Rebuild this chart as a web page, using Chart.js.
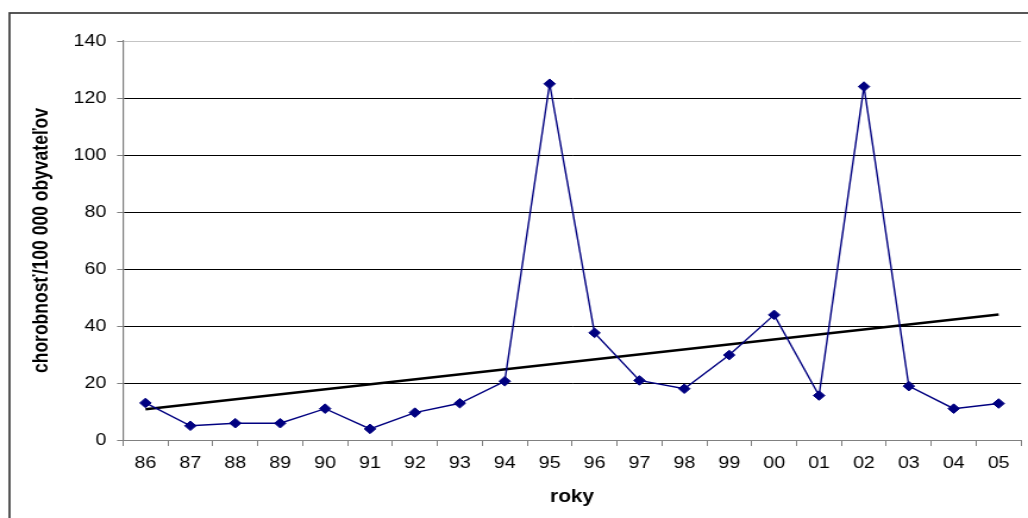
<!DOCTYPE html>
<html>
<head>
<meta charset="utf-8">
<script src="https://cdn.jsdelivr.net/npm/chart.js@4"></script>
<style>
  html, body { margin: 0; padding: 0; background: #fff; overflow: hidden; }
  #chorobnost { display: block; }
</style>
</head>
<body>
<!-- drawn on a narrower canvas and widened by css, the way the old office chart was stretched -->
<canvas id="chorobnost" width="864" height="518" style="width:1028px;height:518px"></canvas>
<script>
const years = ["86", "87", "88", "89", "90", "91", "92", "93", "94", "95",
               "96", "97", "98", "99", "00", "01", "02", "03", "04", "05"];
const cases = [13, 5, 5.9, 5.9, 11, 3.9, 9.6, 12.9, 20.6, 125,
               37.6, 20.9, 18, 29.8, 43.9, 15.6, 124, 18.9, 11, 12.8];
// linear trend, start and end value
const trendStart = 10.8;
const trendEnd = 44;
const yTicks = { min: 0, max: 140, step: 20 };

const stretch = 1028 / 864;
const font = "'Liberation Sans', Arial, sans-serif";

// frame around the whole chart (left and top edges are visible)
const framePlugin = {
  id: "frame",
  beforeDraw(chart) {
    const ctx = chart.ctx;
    ctx.save();
    ctx.strokeStyle = "#3a3a3a";
    ctx.lineWidth = 1.7;
    ctx.strokeRect(9.5 / stretch, 13, 2000, 2000);
    ctx.restore();
  }
};

function myLoadFunction() {
  const ctx = document.getElementById("chorobnost").getContext("2d");
  const config = {
    type: "line",
    data: {
      labels: years,
      datasets: [
        {
          label: "chorobnosť",
          data: cases,
          borderColor: "#000080",
          backgroundColor: "#000080",
          borderWidth: 1.4,
          pointStyle: "rectRot",
          pointRadius: 4.8,
          pointBorderWidth: 1,
          tension: 0,
          order: 1
        },
        {
          label: "trend",
          data: [{ x: years[0], y: trendStart }, { x: years[years.length - 1], y: trendEnd }],
          borderColor: "#000",
          borderWidth: 2.5,
          pointRadius: 0,
          tension: 0,
          order: 2
        }
      ]
    },
    options: {
      responsive: false,
      animation: false,
      devicePixelRatio: 1,
      layout: { padding: { top: 41, left: 0, right: 0.9, bottom: 0 } },
      plugins: {
        legend: { display: false },
        tooltip: { enabled: false }
      },
      scales: {
        x: {
          offset: true,
          grid: {
            offset: true,
            drawOnChartArea: false,
            drawTicks: true,
            tickLength: 6,
            tickColor: "#808080"
          },
          border: { color: "#808080", width: 1 },
          ticks: {
            color: "#000",
            padding: 7.5,
            maxRotation: 0,
            autoSkip: false,
            font: { family: font, size: 16.5 }
          },
          title: {
            display: true,
            text: "roky",
            color: "#000",
            padding: { top: 0, bottom: 10.4 },
            font: { family: font, size: 17.5, weight: "bold" }
          },
          afterFit(scale) { scale.height = 78; }
        },
        y: {
          min: yTicks.min,
          max: yTicks.max,
          grid: {
            color: (c) => (c.tick && c.tick.value === yTicks.max ? "#c4c4c4" : "#000"),
            lineWidth: 1,
            tickLength: 5,
            tickColor: "#808080"
          },
          border: { color: "#808080", width: 1.2 },
          ticks: {
            stepSize: yTicks.step,
            color: "#000",
            padding: 9,
            font: { family: font, size: 16.5 }
          },
          title: {
            display: true,
            text: "chorobnosť/100 000 obyvateľov",
            color: "#000",
            padding: { top: 24.7, bottom: 0 },
            font: { family: font, size: 17.5, weight: "bold" }
          },
          afterFit(scale) { scale.width = 103.4; }
        }
      }
    },
    plugins: [framePlugin]
  };
  new Chart(ctx, config);
}

document.addEventListener("DOMContentLoaded", myLoadFunction);
</script>
</body>
</html>
